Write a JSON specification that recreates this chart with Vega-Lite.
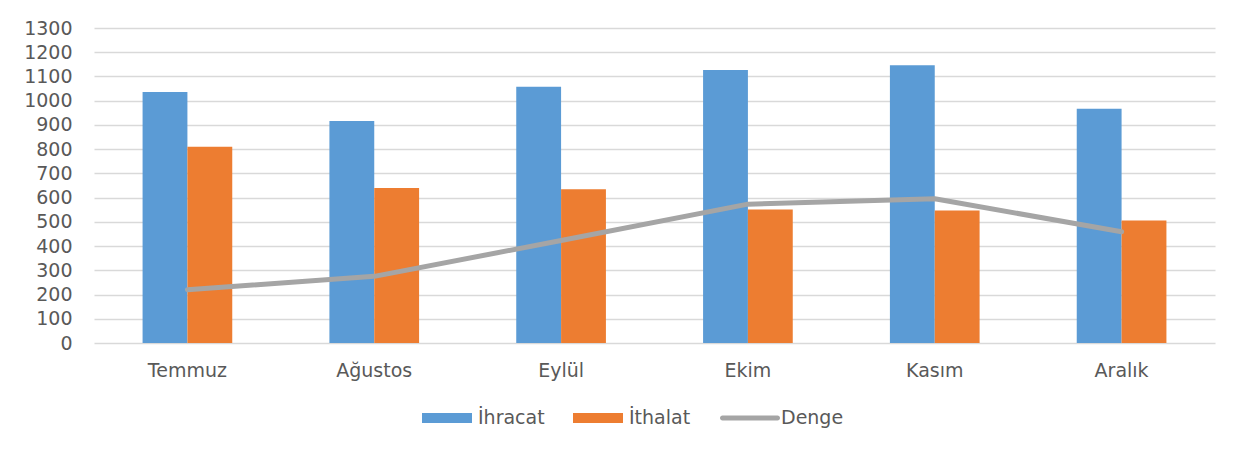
{
  "$schema": "https://vega.github.io/schema/vega-lite/v6.json",
  "autosize": {"type": "none"},
  "width": 1121,
  "height": 315,
  "padding": {"left": 94, "top": 28, "right": 38, "bottom": 107},
  "background": "white",
  "config": {
    "view": {"stroke": null},
    "font": "DejaVu Sans",
    "axis": {"labelFont": "DejaVu Sans", "labelFontSize": 19, "labelColor": "#595959", "ticks": false, "domain": false, "title": null},
    "legend": {"labelFont": "DejaVu Sans"}
  },
  "data": {
    "values": [
      {"month": "Temmuz", "series": "İhracat", "value": 1036},
      {"month": "Temmuz", "series": "İthalat", "value": 810},
      {"month": "Temmuz", "series": "Denge", "value": 220},
      {"month": "Ağustos", "series": "İhracat", "value": 916},
      {"month": "Ağustos", "series": "İthalat", "value": 640},
      {"month": "Ağustos", "series": "Denge", "value": 275},
      {"month": "Eylül", "series": "İhracat", "value": 1058},
      {"month": "Eylül", "series": "İthalat", "value": 635},
      {"month": "Eylül", "series": "Denge", "value": 423},
      {"month": "Ekim", "series": "İhracat", "value": 1127},
      {"month": "Ekim", "series": "İthalat", "value": 551},
      {"month": "Ekim", "series": "Denge", "value": 573},
      {"month": "Kasım", "series": "İhracat", "value": 1146},
      {"month": "Kasım", "series": "İthalat", "value": 547},
      {"month": "Kasım", "series": "Denge", "value": 595},
      {"month": "Aralık", "series": "İhracat", "value": 967},
      {"month": "Aralık", "series": "İthalat", "value": 506},
      {"month": "Aralık", "series": "Denge", "value": 459}
    ]
  },
  "encoding": {
    "x": {
      "field": "month", "type": "nominal",
      "sort": ["Temmuz", "Ağustos", "Eylül", "Ekim", "Kasım", "Aralık"],
      "scale": {"paddingInner": 0.52, "paddingOuter": 0.26},
      "axis": {"labelAngle": 0, "labelPadding": 18, "grid": false}
    },
    "y": {
      "field": "value", "type": "quantitative",
      "scale": {"domain": [0, 1300], "nice": false},
      "axis": {"values": [0,100,200,300,400,500,600,700,800,900,1000,1100,1200,1300], "format": "d", "grid": true, "gridColor": "#d9d9d9", "gridWidth": 1.5, "labelPadding": 22}
    },
    "color": {
      "field": "series", "type": "nominal",
      "scale": {"domain": ["İhracat", "İthalat", "Denge"], "range": ["#5B9BD5", "#ED7D31", "#A5A5A5"]},
      "legend": {
        "orient": "none", "legendX": 328, "legendY": 365, "direction": "horizontal", "title": null,
        "symbolSize": 2500,
        "labelFontSize": 19, "labelColor": "#595959", "labelOffset": 6, "columnPadding": 28,
        "encode": {
          "symbols": {"update": {
            "shape": {"signal": "datum.value === 'Denge' ? 'M-1.1,-0.1H1.1A0.1,0.1,0,0,1,1.1,0.1H-1.1A0.1,0.1,0,0,1,-1.1,-0.1Z' : 'M-1,-0.2H1V0.2H-1Z'"},
            "fill": {"scale": "color", "field": "value"},
            "stroke": {"value": "transparent"},
            "strokeWidth": {"value": 0}
          }}
        }
      }
    }
  },
  "layer": [
    {
      "transform": [{"filter": "datum.series !== 'Denge'"}],
      "mark": {"type": "bar"},
      "encoding": {
        "xOffset": {"field": "series", "type": "nominal", "sort": ["İhracat", "İthalat"]}
      }
    },
    {
      "transform": [{"filter": "datum.series === 'Denge'"}],
      "mark": {"type": "line", "strokeWidth": 5, "strokeCap": "round", "strokeJoin": "round"},
      "encoding": {
        "x": {"field": "month", "type": "nominal", "sort": ["Temmuz", "Ağustos", "Eylül", "Ekim", "Kasım", "Aralık"], "bandPosition": 0.5}
      }
    }
  ]
}
